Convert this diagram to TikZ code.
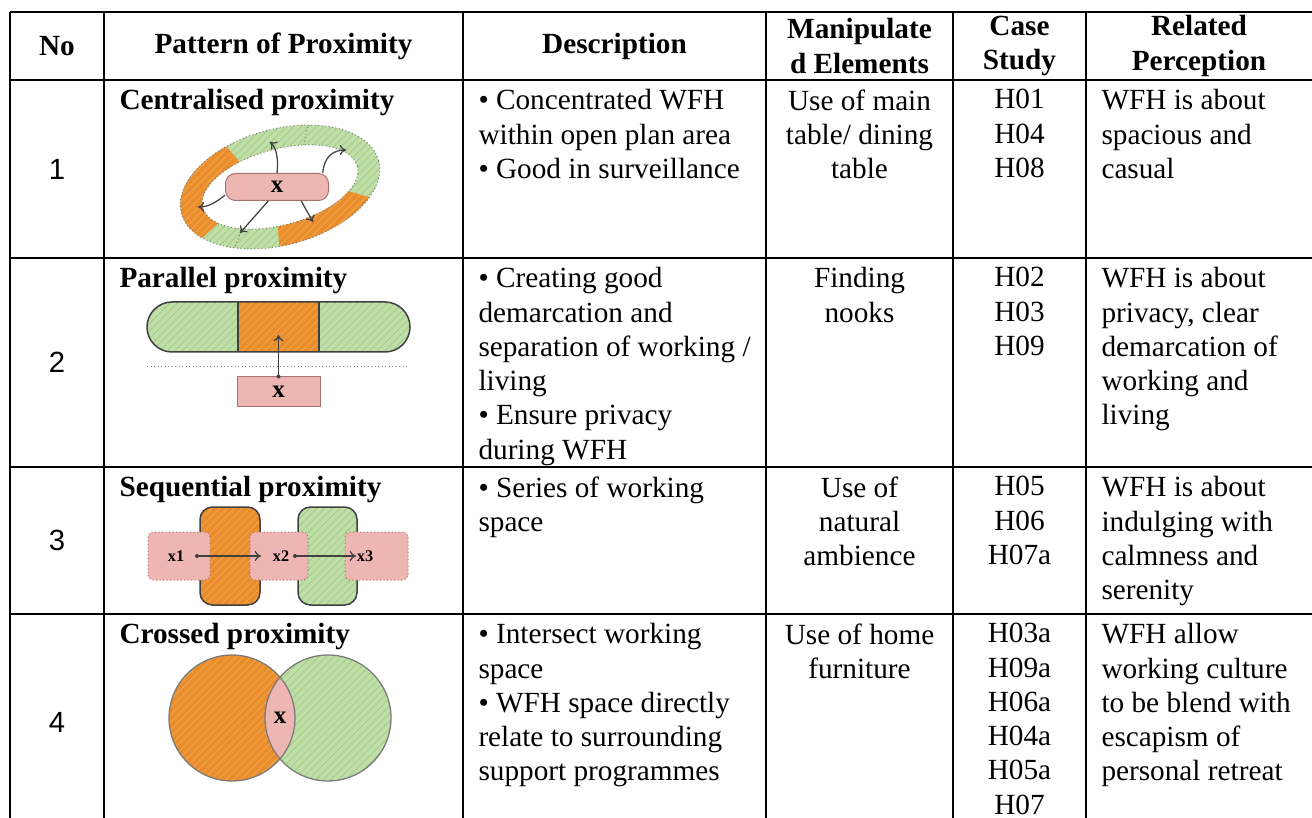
\documentclass[tikz,border=0pt]{standalone}
\usepackage{fontspec}
\setmainfont{Liberation Serif}
\newfontfamily\numfont{Liberation Sans}
\usetikzlibrary{arrows.meta,patterns}

\definecolor{orzone}{HTML}{E98D2C}
\definecolor{orhatch}{HTML}{F3A54E}
\definecolor{grzone}{HTML}{C0DFA8}
\definecolor{grhatch}{HTML}{A3CD86}
\definecolor{pkzone}{HTML}{EDB6B3}
\definecolor{pkline}{HTML}{A57471}
\definecolor{edgegray}{HTML}{404040}

% one piece of the ring, between two parameter angles
\newcommand\ringpart[2]{(#1:102 and 58) arc[start angle=#1,end angle=#2,x radius=102,y radius=58]
  -- (#2:80 and 38) arc[start angle=#2,end angle=#1,x radius=80,y radius=38] -- cycle}

\begin{document}
\begin{tikzpicture}[x=0.4pt,y=-0.4pt,
    grid/.style={line width=1pt},
    head/.style={inner sep=0pt,align=center,font=\fontsize{11.7}{13.7}\selectfont\bfseries},
    cell/.style={inner sep=0pt,anchor=north west,align=left,
                 font=\fontsize{11.7}{13.7}\selectfont,execute at begin node=\vphantom{Hd}},
    midcell/.style={cell,anchor=north,align=center},
    title/.style={cell,font=\fontsize{11.7}{13.7}\selectfont\bfseries},
    numcell/.style={inner sep=0pt,font=\numfont\fontsize{11.7}{13.7}\selectfont},
    orfill/.style={fill=orzone,postaction={pattern=north east lines,pattern color=orhatch}},
    grfill/.style={fill=grzone,postaction={pattern=north east lines,pattern color=grhatch}},
    pinkbox/.style={fill=pkzone,draw=pkline,line width=0.4pt,inner sep=0pt,
                    font=\fontsize{10}{10}\selectfont\bfseries},
    arw/.style={-{To[length=2.5pt,width=4pt]},draw=edgegray,line width=0.5pt},
    small/.style={inner sep=0pt,font=\fontsize{6.5}{7}\selectfont\bfseries}]

  \useasboundingbox (0,0) rectangle (1312,818);

  % table rules
  \foreach \y in {12,80,258,467,614}
    \draw[grid] (10,\y) -- (1312,\y);
  \foreach \x in {10,104,463,766,953,1086}
    \draw[grid] (\x,12) -- (\x,818);

  % header
  \node (h_no)   [head] at (57,46)     {No};
  \node (h_pat)  [head] at (283.5,46)  {Pattern of Proximity};
  \node (h_desc) [head] at (614.5,46)  {Description};
  \node (h_man)  [head] at (859.5,46)  {Manipulate\\d Elements};
  \node (h_case) [head] at (1019.5,46) {Case\\Study};
  \node (h_rel)  [head] at (1199,46)   {Related\\Perception};

  % row numbers
  \node (no1) [numcell] at (57,169) {1};
  \node (no2) [numcell] at (57,362) {2};
  \node (no3) [numcell] at (57,540) {3};
  \node (no4) [numcell] at (57,722) {4};

  % pattern titles
  \node (t1) [title] at (119,89)  {Centralised proximity};
  \node (t2) [title] at (119,267) {Parallel proximity};
  \node (t3) [title] at (119,476) {Sequential proximity};
  \node (t4) [title] at (119,623) {Crossed proximity};

  % descriptions
  \node (desc1) [cell] at (478,89)
        {• Concentrated WFH\\within open plan area\\• Good in surveillance};
  \node (desc2) [cell] at (478,267)
        {• Creating good\\demarcation and\\separation of working /\\living\\• Ensure privacy\\during WFH};
  \node (desc3) [cell] at (478,476)
        {• Series of working\\space};
  \node (desc4) [cell] at (478,623)
        {• Intersect working\\space\\• WFH space directly\\relate to surrounding\\support programmes};

  % manipulated elements
  \node (man1) [midcell] at (859.5,89)  {Use of main\\table/ dining\\table};
  \node (man2) [midcell] at (859.5,267) {Finding\\nooks};
  \node (man3) [midcell] at (859.5,476) {Use of\\natural\\ambience};
  \node (man4) [midcell] at (859.5,623) {Use of home\\furniture};

  % case studies
  \node (case1) [midcell] at (1019.5,89)  {H01\\H04\\H08};
  \node (case2) [midcell] at (1019.5,267) {H02\\H03\\H09};
  \node (case3) [midcell] at (1019.5,476) {H05\\H06\\H07a};
  \node (case4) [midcell] at (1019.5,623) {H03a\\H09a\\H06a\\H04a\\H05a\\H07};

  % related perception
  \node (rel1) [cell] at (1101,89)  {WFH is about\\spacious and\\casual};
  \node (rel2) [cell] at (1101,267) {WFH is about\\privacy, clear\\demarcation of\\working and\\living};
  \node (rel3) [cell] at (1101,476) {WFH is about\\indulging with\\calmness and\\serenity};
  \node (rel4) [cell] at (1101,623) {WFH allow\\working culture\\to be blend with\\escapism of\\personal retreat};

  % centralised proximity
  \begin{scope}[shift={(280,187)},x=0.4pt,y=0.4pt,rotate=15]
    \path[grfill,even odd rule] (0,0) ellipse[x radius=102,y radius=58]
                                (0,0) ellipse[x radius=80,y radius=38];
    \path[orfill] \ringpart{114}{210};
    \path[orfill] \ringpart{261}{325};
    \draw[densely dotted,gray,line width=0.4pt] (0,0) ellipse[x radius=102,y radius=58]
                                               (0,0) ellipse[x radius=80,y radius=38];
    \draw[densely dotted,gray,line width=0.4pt] (65:80 and 38) -- (65:102 and 58);
    \draw[densely dotted,gray,line width=0.4pt] (234:80 and 38) -- (234:102 and 58);
  \end{scope}
  \node (cx) [pinkbox,rounded corners=4pt,minimum width=41.2pt,minimum height=10.8pt]
        at (277,187) {x};
  \coordinate (c1) at (270,142);
  \coordinate (c2) at (346,150);
  \coordinate (c3) at (198,207);
  \coordinate (c4) at (240,233);
  \coordinate (c5) at (313,222);
  \draw[arw] (cx.north) .. controls (279,156) and (275,146) .. (c1);
  \draw[arw] (cx.17) .. controls (324,157) and (333,150) .. (c2);
  \draw[arw] (cx.189) .. controls (215,203) and (208,207) .. (c3);
  \draw[arw] (cx.238) -- (c4);
  \draw[arw] (cx.330) -- (c5);

  % parallel proximity
  \path[grfill,rounded corners=10pt] (147,302) rectangle (410,352);
  \path[orfill] (238,302) rectangle (319,352);
  \draw[edgegray,line width=0.6pt,rounded corners=10pt] (147,302) rectangle (410,352);
  \draw[edgegray,line width=0.6pt] (238,302) -- (238,352) (319,302) -- (319,352);
  \draw[densely dotted,gray,line width=0.4pt] (147,367) -- (407,367);
  \node (px) [pinkbox,minimum width=33.2pt,minimum height=12pt] at (278.5,392) {x};
  \coordinate (p2) at (278.5,335);
  \fill[edgegray] (px.north) circle[radius=2];
  \draw[arw] (px.north) -- (p2);

  % sequential proximity
  \path[orfill,rounded corners=5pt] (200,507) rectangle (260,605);
  \draw[edgegray,line width=0.6pt,rounded corners=5pt] (200,507) rectangle (260,605);
  \path[grfill,rounded corners=5pt] (298,507) rectangle (357,605);
  \draw[edgegray,line width=0.6pt,rounded corners=5pt] (298,507) rectangle (357,605);
  \node (s1) [pinkbox,draw=pkline,densely dotted,rounded corners=2pt,
              minimum width=24.8pt,minimum height=19.2pt] at (179,556) {};
  \node (s2) [pinkbox,draw=pkline,densely dotted,rounded corners=2pt,
              minimum width=23.2pt,minimum height=19.2pt] at (279,556) {};
  \node (s3) [pinkbox,draw=pkline,densely dotted,rounded corners=2pt,
              minimum width=25.2pt,minimum height=19.2pt] at (376.5,556) {};
  \node (x1) [small] at (176,556) {x1};
  \node (x2) [small] at (281,556) {x2};
  \node (x3) [small] at (365,556) {x3};
  \coordinate (d1) at (197,556);
  \coordinate (e1) at (261,556);
  \coordinate (d2) at (295,556);
  \coordinate (e2) at (356,556);
  \fill[edgegray] (d1) circle[radius=2] (d2) circle[radius=2];
  \draw[arw] (d1) -- (e1);
  \draw[arw] (d2) -- (e2);

  % crossed proximity
  \path[orfill] (232,718) circle[radius=63];
  \path[grfill] (328,718) circle[radius=63];
  \begin{scope}
    \clip (232,718) circle[radius=63];
    \fill[pkzone] (328,718) circle[radius=63];
  \end{scope}
  \draw[edgegray!70,line width=0.5pt] (232,718) circle[radius=63] (328,718) circle[radius=63];
  \node (cr) [inner sep=0pt,font=\fontsize{10}{10}\selectfont\bfseries] at (280,718) {x};
\end{tikzpicture}
\end{document}
